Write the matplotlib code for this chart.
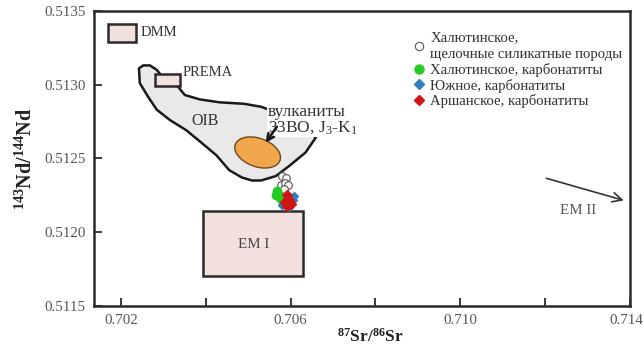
import numpy as np
import matplotlib
matplotlib.use("Agg")
import matplotlib.pyplot as plt
import matplotlib.transforms as mtransforms
from matplotlib.patches import Rectangle, Polygon
from matplotlib.lines import Line2D

plt.rcParams["font.family"] = ["Liberation Serif", "DejaVu Serif"]
plt.rcParams["mathtext.fontset"] = "custom"
plt.rcParams["mathtext.rm"] = "Liberation Serif"
plt.rcParams["mathtext.it"] = "Liberation Serif:italic"
plt.rcParams["mathtext.bf"] = "Liberation Serif:bold"

# --- reservoir boxes: (x0, x1, y0, y1) in 87Sr/86Sr and 143Nd/144Nd ---
dmm_box = (0.70170, 0.70235, 0.51329, 0.51341)
prema_box = (0.70280, 0.70338, 0.51299, 0.51307)
em1_box = (0.70394, 0.70630, 0.51170, 0.51214)

# --- OIB field outline ---
oib_sr = [0.70242, 0.70252, 0.70268, 0.70284, 0.70298, 0.70333, 0.70350,
          0.70385, 0.70432, 0.70490, 0.70530, 0.70596, 0.70649, 0.70659,
          0.70635, 0.70597, 0.70565, 0.70530, 0.70509, 0.70485, 0.70455,
          0.70425, 0.70392, 0.70354, 0.70315, 0.70284, 0.70263, 0.70244]
oib_nd = [0.51311, 0.51313, 0.51313, 0.51310, 0.51305, 0.51299, 0.51293,
          0.51290, 0.51288, 0.51287, 0.51285, 0.51278, 0.51267, 0.51264,
          0.51254, 0.51245, 0.51238, 0.51235, 0.51235, 0.51237, 0.51242,
          0.51252, 0.51260, 0.51269, 0.51276, 0.51283, 0.51292, 0.51301]

# --- volcanics field (ellipse): centre, semi-axes in data units, tilt ---
volc_center = (0.70522, 0.51254)
volc_axes = (0.00056, 0.000096)
volc_tilt_deg = -20

# --- samples ---
khal_sil_sr = [0.70579, 0.70588, 0.70577, 0.70586, 0.70593, 0.70584]
khal_sil_nd = [0.512383, 0.512369, 0.512322, 0.512336, 0.512322, 0.512295]

khal_carb_sr = [0.70565, 0.70572, 0.70577, 0.70567]
khal_carb_nd = [0.512255, 0.512248, 0.512228, 0.512282]

yuzh_sr = [0.70605, 0.70579, 0.70607, 0.70595]
yuzh_nd = [0.512215, 0.512181, 0.512248, 0.512168]

arsh_sr = [0.70591, 0.70595, 0.70586, 0.70600, 0.70591]
arsh_nd = [0.512255, 0.512221, 0.512201, 0.512188, 0.512174]

x_major = [0.702, 0.706, 0.710, 0.714]
x_minor = [0.704, 0.708, 0.712]
y_ticks = [0.5115, 0.5120, 0.5125, 0.5130, 0.5135]

edge = "#2b2b2b"
box_fill = "#f3e1e0"
text_gray = "#555555"

fig = plt.figure(figsize=(6.44, 3.50), dpi=100)
ax = fig.add_axes([0.146, 0.126, 0.832, 0.843])
ax.set_xlim(0.70136, 0.7140)
ax.set_ylim(0.5115, 0.5135)

# OIB field
ax.add_patch(Polygon(np.column_stack([oib_sr, oib_nd]), closed=True,
                     facecolor="#e9e9e9", edgecolor="#1a1a1a", lw=1.8,
                     joinstyle="round", zorder=1))

# volcanics ellipse, drawn with equal pixel proportions
sx = 42417.0
sy = 149000.0
t = np.linspace(0, 2 * np.pi, 200)
th = np.deg2rad(volc_tilt_deg)
a_px = volc_axes[0] * sx
b_px = volc_axes[1] * sy
ex = a_px * np.cos(t) * np.cos(th) - b_px * np.sin(t) * np.sin(th)
ey = a_px * np.cos(t) * np.sin(th) + b_px * np.sin(t) * np.cos(th)
ax.add_patch(Polygon(np.column_stack([volc_center[0] + ex / sx,
                                      volc_center[1] + ey / sy]),
                     closed=True, facecolor="#f2a64c", edgecolor="#6b4a1e",
                     lw=1.0, zorder=2))

# reservoir boxes
for (x0, x1, y0, y1) in (dmm_box, prema_box, em1_box):
    ax.add_patch(Rectangle((x0, y0), x1 - x0, y1 - y0, facecolor=box_fill,
                           edgecolor=edge, lw=1.8, zorder=3))

ax.text(0.70246, 0.513352, "DMM", fontsize=10.5, color="#333333",
        va="center", ha="left", zorder=4)
ax.text(0.70346, 0.513080, "PREMA", fontsize=10.5, color="#333333",
        va="center", ha="left", zorder=4)
ax.text(0.70398, 0.512752, "OIB", fontsize=11.5, color="#333333",
        va="center", ha="center", zorder=4)
ax.text(0.70512, 0.511918, "EM I", fontsize=10.8, color="#444444",
        va="center", ha="center", zorder=4)

ax.text(0.70546, 0.51276, "вулканиты\n33ВО, J$_3$-K$_1$", fontsize=12.5,
        color="#333333", va="center", ha="left", linespacing=1.0,
        bbox=dict(facecolor="white", edgecolor="none", pad=0.5), zorder=5)
ax.annotate("", xy=(0.70537, 0.51259), xytext=(0.70571, 0.51273),
            arrowprops=dict(arrowstyle="->", color="#1a1a1a", lw=1.9,
                            mutation_scale=12), zorder=6)

# EM II direction
ax.annotate("", xy=(0.71392, 0.51221), xytext=(0.71197, 0.51237),
            arrowprops=dict(arrowstyle="->", color="#333333", lw=1.2,
                            mutation_scale=17), zorder=6)
ax.text(0.71278, 0.512150, "EM II", fontsize=10.8, color=text_gray,
        va="center", ha="center", zorder=6)

# samples
ax.plot(khal_sil_sr, khal_sil_nd, "o", ms=5.5, mfc="white", mec="#555555",
        mew=0.8, ls="none", zorder=7)
ax.plot(khal_carb_sr, khal_carb_nd, "o", ms=6, mfc="#22cc22", mec="#22cc22",
        ls="none", zorder=8)
ax.plot(yuzh_sr, yuzh_nd, "D", ms=4.5, mfc="#2f7fbf", mec="#2f7fbf",
        ls="none", zorder=8)
ax.plot(arsh_sr, arsh_nd, "D", ms=5, mfc="#d01515", mec="#d01515",
        ls="none", zorder=9)

# legend
handles = [
    Line2D([], [], marker="o", ls="none", ms=6, mfc="white", mec="#555555", mew=0.8),
    Line2D([], [], marker="o", ls="none", ms=6.5, mfc="#22cc22", mec="#22cc22"),
    Line2D([], [], marker="D", ls="none", ms=5, mfc="#2f7fbf", mec="#2f7fbf"),
    Line2D([], [], marker="D", ls="none", ms=5, mfc="#d01515", mec="#d01515"),
]
labels = ["Халютинское,\nщелочные силикатные породы",
          "Халютинское, карбонатиты",
          "Южное, карбонатиты",
          "Аршанское, карбонатиты"]
leg = ax.legend(handles, labels, loc="upper left", bbox_to_anchor=(0.596, 0.93),
                frameon=False, fontsize=10.6, handlelength=0.8, handletextpad=0.35,
                labelspacing=0.12, borderaxespad=0, borderpad=0)
for txt in leg.get_texts():
    txt.set_color("#333333")
    txt.set_linespacing(1.35)

# axes styling
for sp in ax.spines.values():
    sp.set_linewidth(1.8)
    sp.set_color(edge)

ax.set_xticks(x_major)
ax.set_xticklabels([f"{v:.3f}" for v in x_major])
ax.set_xticks(x_minor, minor=True)
ax.set_yticks(y_ticks)
ax.set_yticklabels([f"{v:.4f}" for v in y_ticks])
ax.tick_params(axis="both", which="both", direction="in", length=6,
               width=1.3, color=edge, labelsize=10.8, labelcolor="#555555")
ax.tick_params(axis="x", pad=6)
ax.tick_params(axis="y", pad=6)

# keep the last x tick label inside the figure
last = ax.get_xticklabels()[-1]
last.set_transform(last.get_transform() +
                   mtransforms.ScaledTranslation(-4 / 100, 0, fig.dpi_scale_trans))

ax.set_xlabel(r"$\mathbf{^{87}Sr/^{86}Sr}$", fontsize=12.5, color="#222222")
ax.xaxis.set_label_coords(0.515, -0.075)
ax.set_ylabel(r"$\mathbf{^{143}Nd/^{144}Nd}$", fontsize=14.5, color="#222222")
ax.yaxis.set_label_coords(-0.106, 0.5)

fig.savefig("out.png", dpi=100)
